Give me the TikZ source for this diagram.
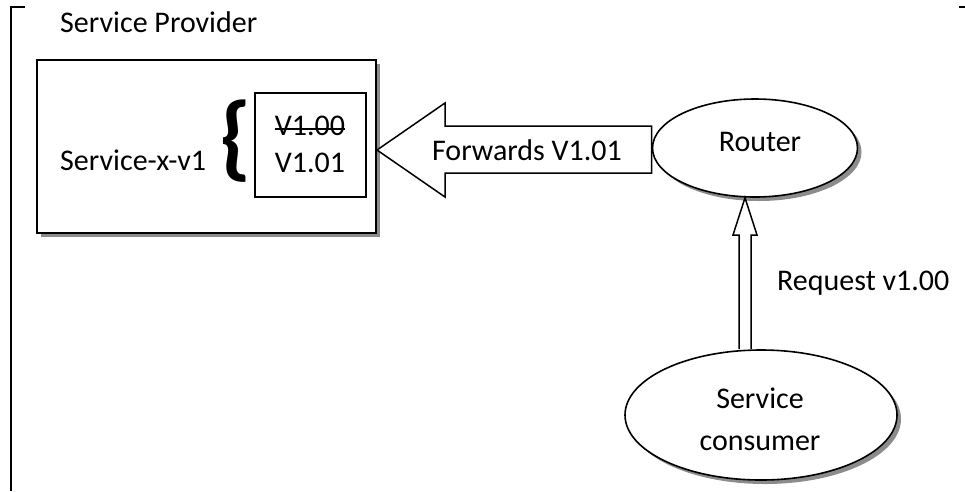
\documentclass[tikz,border=0pt]{standalone}
\usepackage{fontspec}
\setmainfont{Carlito}
\usetikzlibrary{shapes.geometric,shadows,calc}
\begin{document}
\begin{tikzpicture}[x=1pt,y=-1pt,
  lbl/.style={font=\fontsize{30}{34}\selectfont, inner sep=0pt},
  shadowed/.style={drop shadow={shadow xshift=4pt,shadow yshift=-4pt,fill=black!45,opacity=1}},
  boxline/.style={draw, line width=2pt, fill=white},
  ovalline/.style={draw, ellipse, line width=1.6pt, fill=white, inner sep=0pt},
  arrowline/.style={draw, line width=1.5pt, fill=white, line join=miter}]
\useasboundingbox (0,0) rectangle (965,491);

% frame marks
\draw[line width=1.3pt] (25,7) -- (11,7) -- (11,491);
\draw[line width=1.3pt] (959,7) -- (965,7);

% service provider box
\node[lbl, anchor=west] (title) at (60,22) {Service Provider};
\node[boxline, shadowed, minimum width=339pt, minimum height=173pt] (prov) at (206.5,146.5) {};
\node[lbl, anchor=west] (svc) at (60,160) {Service-x-v1};
\node[inner sep=0pt, font=\fontsize{94}{94}\selectfont\bfseries] (brace) at (235.5,141) {\{};
\node[draw, line width=1.5pt, minimum width=111pt, minimum height=104pt] (ver) at (310.5,145) {};
\node[lbl] (vold) at (310,126) {V1.00};
\node[lbl] (vnew) at (310,163) {V1.01};
\draw[line width=1.3pt] ([yshift=-3pt]vold.west) -- ([yshift=-3pt]vold.east);

% router
\node[ovalline, shadowed, minimum width=205pt, minimum height=98pt] (router) at (755,148) {};
\node[lbl] (routertxt) at (760,142) {Router};

% forwarding arrow
\draw[arrowline] (router.west |- 0,126) -- (445,126) -- (445,103) -- (prov.east |- 0,150)
  -- (445,197) -- (445,173) -- (router.west |- 0,173) -- cycle;
\node[lbl] (fwd) at (527,150) {Forwards V1.01};

% service consumer
\node[ovalline, shadowed, minimum width=272pt, minimum height=130pt] (consumer) at (761,415) {};
\node[lbl] (cons1) at (760,398) {Service};
\node[lbl] (cons2) at (760,443) {consumer};

% request arrow
\draw[arrowline] (739,0 |- consumer.north) -- (739,235) -- (733,235) -- (745,0 |- router.south)
  -- (757,235) -- (751,235) -- (751,0 |- consumer.north);
\node[lbl, anchor=west] (req) at (777,283) {Request v1.00};
\end{tikzpicture}
\end{document}
